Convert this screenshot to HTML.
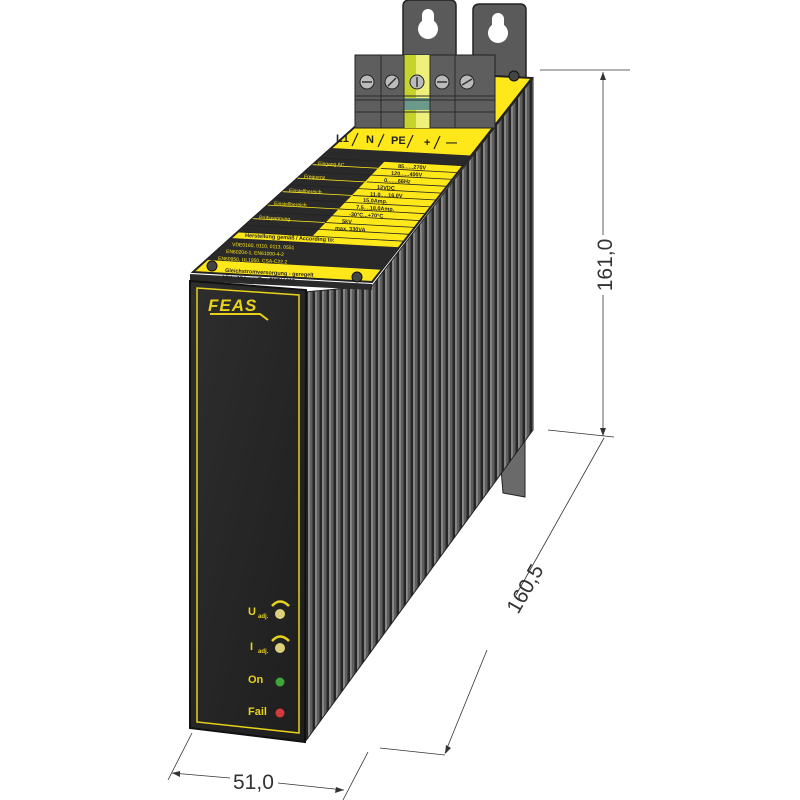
<!DOCTYPE html>
<html><head><style>
html,body{margin:0;padding:0;background:#fff;}
svg{display:block;font-family:"Liberation Sans",sans-serif;}
</style></head><body>
<svg width="800" height="800" viewBox="0 0 800 800" xmlns="http://www.w3.org/2000/svg">
<defs>
<pattern id="fins" width="7" height="800" patternUnits="userSpaceOnUse">
<rect width="7" height="800" fill="#444"/>
<rect x="0" width="2" height="800" fill="#858585"/>
<rect x="2" width="2" height="800" fill="#5e5e5e"/>
<rect x="5" width="2" height="800" fill="#262626"/>
</pattern>
<linearGradient id="fp" x1="0" y1="0" x2="1" y2="1"><stop offset="0" stop-color="#2e2e2e"/><stop offset="1" stop-color="#1e1e1e"/></linearGradient>
</defs>
<!-- brackets -->
<path d="M403 6 Q403 0 410 0 L450 0 Q456 0 456 6 L456 80 L403 80Z" fill="#5a5a5a" stroke="#222" stroke-width="1.5"/>
<path d="M422 15 a6 6 0 1 1 12 0 v6 a10 10 0 1 1 -12 0z" fill="#fff"/>
<path d="M473 10 Q473 4 480 4 L520 4 Q526 4 526 10 L526 80 L473 80Z" fill="#5a5a5a" stroke="#222" stroke-width="1.5"/>
<path d="M492 19 a6 6 0 1 1 12 0 v6 a10 10 0 1 1 -12 0z" fill="#fff"/>
<!-- bottom bracket -->
<path d="M497 420 L525 420 L525 497 L503 493 Z" fill="#6a6a6a" stroke="#222"/>
<!-- heatsink side -->
<path d="M304 292 L372 286 L533 78 L533 430 L305 742 Z" fill="url(#fins)"/>
<path d="M304 292 L372 286 L533 78 L533 430 L305 742 Z" fill="none" stroke="#222" stroke-width="1"/>
<!-- cover lip -->
<path d="M190 274 L372 284 L372 290 L190 281Z" fill="#2a2a2a"/>
<!-- top face -->
<path d="M193 272 L416 72 L532 78 L372 282 Z" fill="#ffe81a" stroke="#222" stroke-width="2"/>
<!-- table -->
<path d="M331 148 L471 155.5 L463 165.7 L320 158Z" fill="#2a2a2a"/>
<path d="M320 158 L384.5 161.5 L312.5 236.1 L237.6 232Z" fill="#2a2a2a"/>
<g stroke="#222" stroke-width="0.8">
<line x1="320" y1="158" x2="463" y2="165.7"/>
<line x1="312.6" y1="164.7" x2="457.8" y2="172.6"/>
<line x1="305.1" y1="171.5" x2="452.4" y2="179.4"/>
<line x1="297.6" y1="178.2" x2="447.1" y2="186.3"/>
<line x1="290.1" y1="184.9" x2="441.7" y2="193.1"/>
<line x1="282.7" y1="191.7" x2="436.3" y2="200"/>
<line x1="275.2" y1="198.4" x2="430.9" y2="206.9"/>
<line x1="267.7" y1="205.1" x2="425.5" y2="213.7"/>
<line x1="260.2" y1="211.8" x2="420.2" y2="220.6"/>
<line x1="252.7" y1="218.6" x2="414.8" y2="227.4"/>
<line x1="245.2" y1="225.3" x2="409.4" y2="234.3"/>
<line x1="237.6" y1="232" x2="404" y2="241.2"/>
</g>
<g stroke="#ffe81a" stroke-width="0.8">
<line x1="312.6" y1="164.7" x2="381" y2="168.4"/>
<line x1="297.6" y1="178.2" x2="367" y2="182"/>
<line x1="282.7" y1="191.7" x2="353" y2="195.5"/>
<line x1="267.7" y1="205.1" x2="339" y2="209"/>
<line x1="252.7" y1="218.6" x2="325" y2="222.5"/>
</g>
<path d="M230.9 238 L399.2 247.3 L381.6 269.8 L206.4 260Z" fill="#2a2a2a"/>
<g font-size="5.5" fill="#222" font-weight="bold">
<text x="398" y="168" transform="rotate(3 398 168)">85......270V</text>
<text x="391" y="175" transform="rotate(3 391 175)">120......400V</text>
<text x="384" y="182" transform="rotate(3 384 182)">0.......66Hz</text>
<text x="377" y="189" transform="rotate(3 377 189)">12VDC</text>
<text x="370" y="196" transform="rotate(3 370 196)">11,0.....16,0V</text>
<text x="363" y="202" transform="rotate(3 363 202)">15,0Amp.</text>
<text x="356" y="209" transform="rotate(3 356 209)">7,5....18,0Amp.</text>
<text x="349" y="216" transform="rotate(3 349 216)">-30°C...+70°C</text>
<text x="342" y="223" transform="rotate(3 342 223)">5kV</text>
<text x="335" y="230" transform="rotate(3 335 230)">max. 330VA</text>
<text x="245" y="237" transform="rotate(3 245 237)">Herstellung gemäß / According to:</text>
<text x="225" y="272" transform="rotate(3 225 272)">Gleichstromversorgung - geregelt</text>
<text x="222" y="279" transform="rotate(3 222 279)">12V - 15Amp. Typ SNT11012</text>
</g>
<g font-size="5" fill="#ffe81a">
<text x="318" y="165" transform="rotate(3 318 165)">Eingang AC</text>
<text x="304" y="178" transform="rotate(3 304 178)">Frequenz</text>
<text x="289" y="192" transform="rotate(3 289 192)">Einstellbereich</text>
<text x="274" y="205" transform="rotate(3 274 205)">Einstellbereich</text>
<text x="259" y="219" transform="rotate(3 259 219)">Prüfspannung</text>
<text x="232" y="246" transform="rotate(3 232 246)">VDE0160, 0110, 0113, 0551</text>
<text x="226" y="253" transform="rotate(3 226 253)">EN60204-1, EN61000-4-2</text>
<text x="218" y="260" transform="rotate(3 218 260)">EN60950, UL1950, CSA-C22.2</text>
</g>
<g font-size="11" font-weight="bold" fill="#222">
<text x="336" y="142">L1</text><text x="366" y="143">N</text><text x="391" y="144">PE</text><text x="424" y="146">+</text><text x="446" y="146">—</text>
</g>
<g stroke="#222" stroke-width="1.2">
<line x1="358" y1="133" x2="352" y2="146"/><line x1="384" y1="134" x2="378" y2="147"/><line x1="413" y1="135" x2="407" y2="148"/><line x1="440" y1="136" x2="434" y2="149"/>
</g>
<!-- terminal block -->
<rect x="355" y="55" width="140" height="73" fill="#5e5e5e" stroke="#222"/>
<rect x="404" y="55" width="26" height="73" fill="#c4d42c"/>
<rect x="416" y="55" width="14" height="73" fill="#eef07a"/>
<rect x="404" y="98" width="26" height="12" fill="#6c9a8a"/>
<g stroke="#2a2a2a" stroke-width="1">
<line x1="381" y1="55" x2="381" y2="128"/><line x1="404" y1="55" x2="404" y2="128"/><line x1="430" y1="55" x2="430" y2="128"/><line x1="455" y1="55" x2="455" y2="128"/>
<line x1="355" y1="96" x2="495" y2="96"/><line x1="355" y1="100" x2="495" y2="100"/><line x1="355" y1="112" x2="495" y2="112"/>
</g>
<g fill="#bbb" stroke="#222">
<circle cx="367" cy="82" r="7"/><circle cx="392" cy="82" r="7"/><circle cx="417" cy="82" r="7"/><circle cx="442" cy="82" r="7"/><circle cx="467" cy="82" r="7"/>
</g>
<g stroke="#333" stroke-width="1.5">
<line x1="362" y1="82" x2="372" y2="82"/><line x1="388" y1="86" x2="396" y2="78"/><line x1="417" y1="77" x2="417" y2="87"/><line x1="437" y1="82" x2="447" y2="82"/><line x1="462" y1="85" x2="472" y2="79"/>
</g>
<circle cx="212" cy="266" r="5" fill="#444" stroke="#111"/>
<circle cx="357" cy="277" r="5" fill="#444" stroke="#111"/>
<circle cx="514" cy="76" r="5" fill="#444" stroke="#111"/>
<!-- front panel -->
<path d="M190 281 L306 290 L305 742 L190 728 Z" fill="url(#fp)" stroke="#111" stroke-width="2"/>
<path d="M197 288 L299 295 L299 733 L197 722 Z" fill="none" stroke="#e8d21a" stroke-width="1.5"/>
<text x="208" y="311" font-size="17" font-weight="bold" fill="#e8d21a" font-style="italic" letter-spacing="1">FEAS</text>
<path d="M210 314 L260 314 L268 320" stroke="#e8d21a" stroke-width="2" fill="none"/>
<g fill="#e8d21a" font-weight="bold" font-size="11">
<text x="248" y="615">U</text><text x="258" y="618" font-size="6">adj.</text>
<text x="250" y="650">I</text><text x="258" y="653" font-size="6">adj.</text>
<text x="248" y="683">On</text>
<text x="248" y="715">Fail</text>
</g>
<path d="M272 606 Q280 597 289 606" stroke="#e8d21a" stroke-width="2.5" fill="none"/>
<path d="M272 641 Q280 632 289 641" stroke="#e8d21a" stroke-width="2.5" fill="none"/>
<circle cx="280" cy="614" r="5" fill="#ddd07a"/><circle cx="280" cy="648" r="5" fill="#ddd07a"/>
<circle cx="280" cy="682" r="4.5" fill="#3fa63a"/><circle cx="280" cy="713" r="4.5" fill="#d43a3a"/>
<!-- dimensions -->
<g stroke="#333" stroke-width="0.8" fill="none">
<line x1="540" y1="70" x2="630" y2="70"/>
<line x1="548" y1="430" x2="614" y2="437"/>
<line x1="603" y1="72" x2="603" y2="235"/>
<line x1="603" y1="295" x2="603" y2="436"/>
<line x1="380" y1="748" x2="445" y2="755"/>
<line x1="604" y1="438" x2="516" y2="595"/>
<line x1="487" y1="650" x2="445" y2="753"/>
<line x1="192" y1="733" x2="168" y2="780"/>
<line x1="368" y1="752" x2="343" y2="800"/>
<line x1="172" y1="773" x2="230" y2="778"/>
<line x1="278" y1="783" x2="344" y2="790"/>
</g>
<g fill="#333">
<path d="M603 72 l-3 8 h6z"/><path d="M603 436 l-3 -8 h6z"/>
<path d="M445 754 l1 -9 l5 3z"/>
<path d="M172 773 l8 -2 l0 6z"/><path d="M344 790 l-8 -3 l-1 6z"/>
</g>
<g font-size="21" fill="#333">
<text x="612" y="265" transform="rotate(-90 612 265)" text-anchor="middle">161,0</text>
<text x="518" y="615" transform="rotate(-60 518 615)">160,5</text>
<text x="233" y="789">51,0</text>
</g>
</svg>
</body></html>
